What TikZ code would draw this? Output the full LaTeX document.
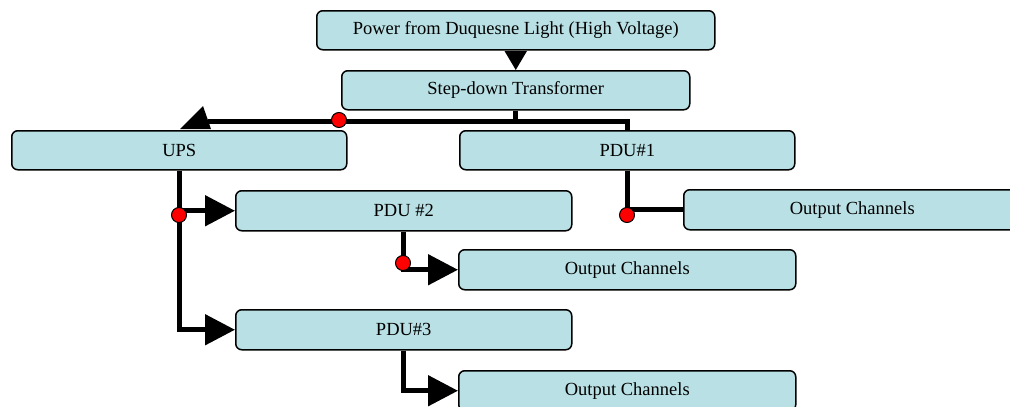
\documentclass[tikz,border=0pt]{standalone}
\usepackage{fontspec}
\setmainfont{Liberation Serif}
\usetikzlibrary{arrows.meta}
\definecolor{boxfill}{RGB}{185,224,228}
\tikzset{
  box/.style={draw=black, line width=1.5pt, rounded corners=6pt, fill=boxfill,
    font=\fontsize{18.5}{22}\selectfont, inner sep=0pt, anchor=north west},
  wire/.style={line width=5pt},
  bigtip/.style={-{Triangle[length=30pt,width=30pt]}},
  dot/.style={circle, draw=black, line width=1pt, fill=red, minimum size=15pt, inner sep=0pt},
}
\begin{document}
\begin{tikzpicture}[x=1pt,y=-1pt]
\useasboundingbox (0,0) rectangle (1010,407);
\clip (0,0) rectangle (1010,407);
% boxes
\node[box, minimum width=398pt, minimum height=39pt] (power) at (316,10) {Power from Duquesne Light (High Voltage)};
\node[box, minimum width=348pt, minimum height=39pt] (step) at (341,70) {Step-down Transformer};
\node[box, minimum width=335pt, minimum height=39pt] (ups) at (11,130) {UPS};
\node[box, minimum width=335pt, minimum height=39pt] (pdu1) at (459,130) {PDU\#1};
\node[box, minimum width=336pt, minimum height=40pt] (pdu2) at (235,190) {PDU \#2};
\node[box, minimum width=336pt, minimum height=40pt] (pdu3) at (235,309) {PDU\#3};
\node[box, minimum width=337pt, minimum height=40pt] (out1) at (683,189) {Output Channels};
\node[box, minimum width=337pt, minimum height=40pt] (out2) at (458,249) {Output Channels};
\node[box, minimum width=337pt, minimum height=40pt] (out3) at (458,370) {Output Channels};
% connectors
\draw[line width=2pt, -{Triangle[length=19pt,width=22pt]}] (power.south) -- (step.north);
\draw[wire] (step.south) -- ++(0,10.5) coordinate (split) -| (pdu1.north);
\path (split) ++(-308,0) coordinate (upsin);
\draw[wire] (split) -- (upsin);
\fill (180,129) -- (203,106) -- (211,129) -- cycle;
\draw[wire, bigtip] (ups.south) |- (pdu3.west);
\draw[wire, bigtip] (ups.south |- pdu2.west) -- (pdu2.west);
\draw[wire, bigtip] (pdu2.south) |- (out2.west);
\draw[wire, bigtip] (pdu3.south) |- (out3.west);
\draw[wire] (pdu1.south) |- (out1.west);
% junction dots
\node[dot] (d1) at (339,120) {};
\node[dot] (d2) at (179,215) {};
\node[dot] (d3) at (403,263) {};
\node[dot] (d4) at (627,215) {};
\end{tikzpicture}
\end{document}
